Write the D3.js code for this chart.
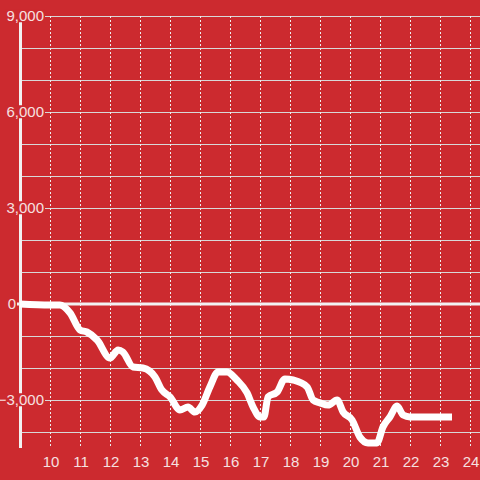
<!DOCTYPE html>
<html><head><meta charset="utf-8">
<script src="https://cdn.jsdelivr.net/npm/d3@7"></script>
<style>html,body{margin:0;padding:0;background:#cc2a2f;}svg{display:block;}</style>
</head><body>
<svg id="c" width="480" height="480"></svg>
<script>
const hours = [9.0,10.0,10.33,10.67,11.0,11.23,11.57,12.0,12.27,12.43,12.77,13.1,13.5,13.73,14.0,14.33,14.6,14.83,15.07,15.33,15.6,15.9,16.23,16.57,16.77,17.0,17.13,17.27,17.57,17.83,18.1,18.57,18.77,19.0,19.27,19.57,19.77,20.07,20.33,20.6,20.9,21.1,21.33,21.57,21.77,22.0,23.4];
const values = [0,-30,-30,-280,-810,-875,-1125,-1690,-1440,-1500,-1970,-2000,-2280,-2690,-2900,-3310,-3220,-3375,-3160,-2590,-2125,-2125,-2375,-2780,-3220,-3530,-3530,-2900,-2750,-2340,-2375,-2590,-3000,-3090,-3160,-3000,-3375,-3625,-4160,-4340,-4340,-3840,-3530,-3190,-3470,-3530,-3530];
const yTicks = [-3000,0,3000,6000,9000];
const yGrid = [-4000,-3000,-2000,-1000,0,1000,2000,3000,4000,5000,6000,7000,8000,9000];
const xTicks = [10,11,12,13,14,15,16,17,18,19,20,21,22,23,24];

const bg = "#cc2a2f";
const FONT = "'Liberation Sans', Arial, sans-serif";
const svg = d3.select("#c");
const x = d3.scaleLinear().domain([9, 24]).range([20, 470]);
const y = d3.scaleLinear().domain([-4500, 9000]).range([448, 16]);

// horizontal grid
svg.append("g").selectAll("line").data(yGrid.filter(d=>d!==0)).join("line")
  .attr("x1", 22).attr("x2", 480)
  .attr("y1", d=>y(d)+0.5).attr("y2", d=>y(d)+0.5)
  .attr("stroke", "#d8d8d8").attr("stroke-width", 1);

// vertical dotted grid
svg.append("g").selectAll("line").data(xTicks).join("line")
  .attr("x1", d=>Math.round(x(d))+0.5).attr("x2", d=>Math.round(x(d))+0.5)
  .attr("y1", 16).attr("y2", 448)
  .attr("stroke", "#eeeeee").attr("stroke-width", 1).attr("stroke-dasharray", "2,2");

// zero line
svg.append("line").attr("x1", 17).attr("x2", 480).attr("y1", y(0)).attr("y2", y(0))
  .attr("stroke", "#f2f2f2").attr("stroke-width", 3);

// y axis bar
svg.append("line").attr("x1", 20.5).attr("x2", 20.5).attr("y1", 16).attr("y2", 448)
  .attr("stroke", "#f2f2f2").attr("stroke-width", 3);

// y labels
const fmt = d3.format(",");
const yl = svg.append("g").selectAll("g").data(yTicks).join("g");
yl.append("text")
  .attr("x", d=>d===0?16:44).attr("y", d=>y(d)).attr("dy", "0.35em")
  .attr("text-anchor", "end")
  .attr("font-family", FONT).attr("font-size", 15)
  .attr("fill", "#f6e0e0")
  .text(d=>d===0?"0":fmt(d));
yl.each(function(d){
  if (d===0) return;
  const t = d3.select(this).select("text");
  const b = t.node().getBBox();
  d3.select(this).insert("rect","text")
    .attr("x", b.x-1).attr("y", b.y+2).attr("width", b.width+2).attr("height", b.height-4)
    .attr("fill", bg);
});

// x labels
svg.append("g").selectAll("text").data(xTicks).join("text")
  .attr("x", d=>x(d)+1).attr("y", 462).attr("dy", "0.35em")
  .attr("text-anchor", "middle")
  .attr("font-family", FONT).attr("font-size", 15)
  .attr("fill", "#f6e0e0")
  .text(d=>d);

// series line
const line = d3.line().x((d,i)=>x(hours[i])).y(d=>y(d)).curve(d3.curveMonotoneX);
svg.append("path").datum(values).attr("d", line)
  .attr("fill", "none").attr("stroke", "#ffffff").attr("stroke-width", 7)
  .attr("stroke-linejoin", "round").attr("stroke-linecap", "butt");
</script>
</body></html>
